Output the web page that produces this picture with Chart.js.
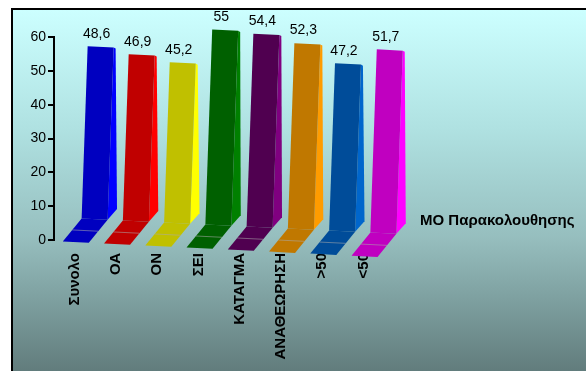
<!DOCTYPE html>
<html>
<head>
<meta charset="utf-8">
<script src="https://cdn.jsdelivr.net/npm/chart.js@4.4.1/dist/chart.umd.min.js"></script>
<style>
  html, body { margin: 0; padding: 0; background: #fff; }
  #wrap { position: relative; width: 586px; height: 371px; overflow: hidden; }
  #frame {
    position: absolute; left: 11px; top: 8px; width: 600px; height: 400px;
    border: 2px solid #000;
    background: linear-gradient(to bottom, #ccffff 0%, #afe1e1 30%, #96bebe 57%, #627d7d 90%, #5a7272 100%);
  }
  #chart { position: absolute; left: 0; top: 0; }
</style>
</head>
<body>
<div id="wrap">
  <div id="frame"></div>
  <canvas id="chart" width="586" height="371"></canvas>
</div>
<script>
const categories = ["Συνολο", "ΟΑ", "ΟΝ", "ΣΕΙ", "ΚΑΤΑΓΜΑ", "ΑΝΑΘΕΩΡΗΣΗ", ">50", "<50"];
const values     = [48.6, 46.9, 45.2, 55, 54.4, 52.3, 47.2, 51.7];
const seriesName = "ΜΟ Παρακολουθησης";
const yMin = 0, yMax = 60, yStep = 10;

const frontColors = ["#0000c0", "#c00000", "#c0c000", "#006000", "#500050", "#c07800", "#004c99", "#c000c0"];
const sideColors  = ["#0000ff", "#ff0000", "#ffff00", "#008000", "#800080", "#ff9c00", "#0066cc", "#ff00ff"];

const FONT = "'Liberation Sans', Arial, sans-serif";

// fake 3D: floor depth, face set back from the tick, perspective skew
const depthX = 18, depthY = 24, faceShift = 20;
const lean = -0.035, drop = 0.049;

const bars3d = {
  id: "bars3d",
  beforeDatasetsDraw(chart) {
    const ctx = chart.ctx;
    const els = chart.getDatasetMeta(0).data;
    const base = els[0].base, x0 = els[0].x;
    const P = (x, y) => [x + lean * (y - base), y + drop * (x - x0)];
    const poly = (pts, fill) => {
      ctx.beginPath();
      pts.forEach((p, i) => {
        const q = P(p[0], p[1]);
        if (i) ctx.lineTo(q[0], q[1]); else ctx.moveTo(q[0], q[1]);
      });
      ctx.closePath();
      ctx.fillStyle = fill;
      ctx.fill();
    };
    ctx.save();
    els.forEach((el, i) => {
      const w = el.width;
      const l = el.x + faceShift - w / 2, r = l + w;
      const top = el.y, b = el.base;
      // floor
      poly([[l, b], [r, b], [r - depthX, b + depthY], [l - depthX, b + depthY]], frontColors[i]);
      const m1 = P(l - depthX / 2, b + depthY / 2), m2 = P(r - depthX / 2, b + depthY / 2);
      ctx.strokeStyle = "rgba(170,170,170,.55)";
      ctx.lineWidth = 1;
      ctx.beginPath(); ctx.moveTo(m1[0], m1[1]); ctx.lineTo(m2[0], m2[1]); ctx.stroke();
      // side + front
      poly([[r, top], [r + 2, top + 1], [r + 9, b - 11], [r, b]], sideColors[i]);
      poly([[l, top], [r, top], [r, b], [l, b]], frontColors[i]);
      // value label
      const q = P(el.x + faceShift - 4, top);
      ctx.fillStyle = "#000";
      ctx.font = "14px " + FONT;
      ctx.textAlign = "center";
      ctx.textBaseline = "middle";
      ctx.fillText(String(values[i]).replace(".", ","), q[0], q[1] - 13);
    });
    ctx.restore();
    return false;
  },
  // series (depth axis) name, to the right of the columns
  afterDraw(chart) {
    const ctx = chart.ctx, a = chart.chartArea;
    ctx.save();
    ctx.fillStyle = "#000";
    ctx.font = "bold 15px " + FONT;
    ctx.textAlign = "left";
    ctx.textBaseline = "middle";
    ctx.fillText(seriesName, a.right + 36, a.bottom - 19);
    ctx.restore();
  }
};

new Chart(document.getElementById("chart"), {
  type: "bar",
  data: {
    labels: categories,
    datasets: [{
      label: seriesName,
      data: values,
      backgroundColor: frontColors,
      barThickness: 26,
      yAxisID: "yb",
    }]
  },
  options: {
    responsive: false,
    animation: false,
    layout: { padding: { top: 37, left: 0, right: 202, bottom: 0 } },
    plugins: {
      tooltip: { enabled: false },
      legend: { display: false }
    },
    scales: {
      x: {
        grid: { display: false, drawTicks: false },
        border: { display: false },
        ticks: { color: "#000", font: { size: 15, weight: "bold", family: FONT }, minRotation: 90, maxRotation: 90, autoSkip: false, padding: 13 },
        afterFit: s => { s.height = 131; }
      },
      y: {
        min: yMin, max: yMax,
        grid: { drawOnChartArea: false, color: "#000", lineWidth: 2, tickLength: 6 },
        border: { color: "#000", width: 2 },
        ticks: { stepSize: yStep, color: "#000", font: { size: 14, family: FONT }, padding: 2 },
        afterFit: s => { s.width = 54; }
      },
      // depth scale for the columns (back wall sits higher than the axis)
      yb: { display: false, min: -6.2, max: 51.1 }
    }
  },
  plugins: [bars3d]
});
</script>
</body>
</html>
